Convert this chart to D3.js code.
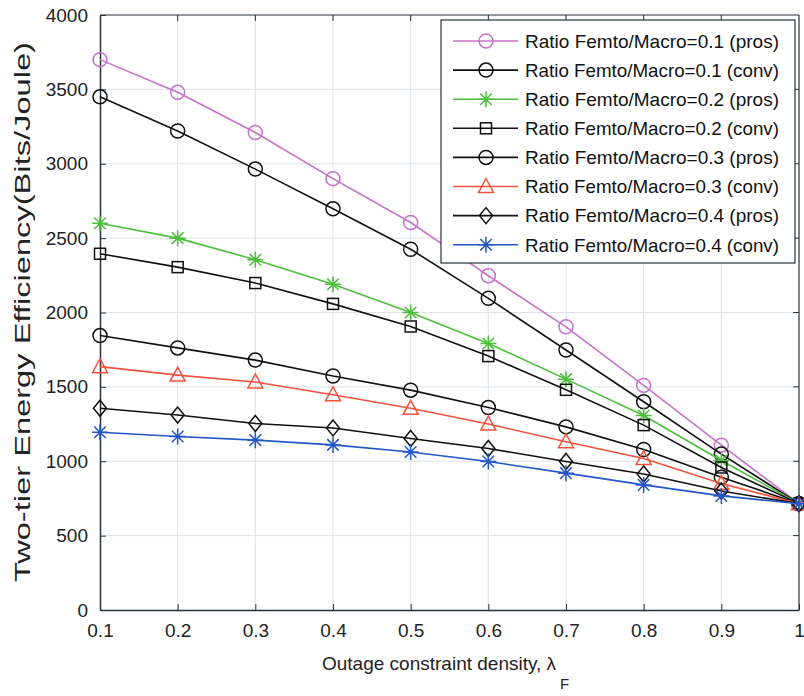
<!DOCTYPE html>
<html><head><meta charset="utf-8">
<script src="https://cdn.jsdelivr.net/npm/d3@7"></script>
<style>body{margin:0;background:#fff}svg{display:block}</style>
</head><body><svg id="c" width="804" height="696"></svg>
<script>
const xValues = [0.1,0.2,0.3,0.4,0.5,0.6,0.7,0.8,0.9,1.0];
const seriesNames = [
  "Ratio Femto/Macro=0.1 (pros)","Ratio Femto/Macro=0.1 (conv)",
  "Ratio Femto/Macro=0.2 (pros)","Ratio Femto/Macro=0.2 (conv)",
  "Ratio Femto/Macro=0.3 (pros)","Ratio Femto/Macro=0.3 (conv)",
  "Ratio Femto/Macro=0.4 (pros)","Ratio Femto/Macro=0.4 (conv)"];
const r01pros = [3700,3480,3210,2900,2605,2247,1904,1510,1108,715];
const r01conv = [3450,3220,2964,2697,2425,2095,1748,1400,1048,715];
const r02pros = [2600,2500,2355,2190,2000,1792,1552,1308,1005,715];
const r02conv = [2395,2305,2198,2058,1906,1707,1480,1243,958,715];
const r03pros = [1845,1762,1680,1573,1478,1361,1231,1079,893,715];
const r03conv = [1636,1579,1533,1447,1356,1250,1131,1018,850,715];
const r04pros = [1356,1311,1254,1224,1153,1086,998,914,800,715];
const r04conv = [1195,1166,1142,1110,1062,998,920,841,767,715];
const seriesValues = [r01pros,r01conv,r02pros,r02conv,r03pros,r03conv,r04pros,r04conv];
const seriesColors = ["#c573c8","#111111","#4cbf3a","#111111","#111111","#f2533f","#111111","#2456c8"];
const seriesMarkers = ["circle","circle","star","square","circle","triangle","diamond","star"];
const yTicks = [0,500,1000,1500,2000,2500,3000,3500,4000];
const xTicks = [0.1,0.2,0.3,0.4,0.5,0.6,0.7,0.8,0.9,1];

const svg = d3.select("#c");
const m = {l:100, r:5, t:15, b:86};
const W = 804, H = 696;
const x = d3.scaleLinear().domain([0.1,1]).range([m.l, W-m.r]);
const y = d3.scaleLinear().domain([0,4000]).range([H-m.b, m.t]);
const font = "'Liberation Sans', Arial, sans-serif";

// grid
svg.append("g").selectAll("line").data(xTicks.slice(1,-1)).join("line")
  .attr("x1",d=>x(d)).attr("x2",d=>x(d)).attr("y1",y(0)).attr("y2",y(4000))
  .attr("stroke","#dde3e8").attr("stroke-width",1);
svg.append("g").selectAll("line").data(yTicks.slice(1,-1)).join("line")
  .attr("y1",d=>y(d)).attr("y2",d=>y(d)).attr("x1",x(0.1)).attr("x2",x(1))
  .attr("stroke","#dde3e8").attr("stroke-width",1);

// axes
const xAxis = d3.axisBottom(x).tickValues(xTicks).tickSizeInner(-6).tickSizeOuter(0)
  .tickPadding(14).tickFormat(d=>d===1?"1":d3.format(".1f")(d));
const gx = svg.append("g").attr("transform",`translate(0,${y(0)})`).call(xAxis);
const yAxis = d3.axisLeft(y).tickValues(yTicks).tickSizeInner(-6).tickSizeOuter(0).tickPadding(12).tickFormat(d3.format("d"));
const gy = svg.append("g").attr("transform",`translate(${x(0.1)},0)`).call(yAxis);
[gx,gy].forEach(g=>{
  g.selectAll("text").attr("font-family",font).attr("font-size",19).attr("fill","#222");
  g.select(".domain").attr("stroke","#263238").attr("stroke-width",1.5);
  g.selectAll(".tick line").attr("stroke","#263238");
});
gx.selectAll("text").attr("dy","0.71em");
// top/right frame
svg.append("line").attr("x1",x(0.1)).attr("x2",x(1)).attr("y1",y(4000)).attr("y2",y(4000)).attr("stroke","#263238").attr("stroke-width",1.2);
svg.append("line").attr("x1",x(1)).attr("x2",x(1)).attr("y1",y(4000)).attr("y2",y(0)).attr("stroke","#263238").attr("stroke-width",1.2);
svg.append("g").selectAll("line").data(xTicks.slice(1,-1)).join("line")
  .attr("x1",d=>x(d)).attr("x2",d=>x(d)).attr("y1",y(4000)).attr("y2",y(4000)+6).attr("stroke","#263238");
svg.append("g").selectAll("line").data(yTicks.slice(1,-1)).join("line")
  .attr("y1",d=>y(d)).attr("y2",d=>y(d)).attr("x1",x(1)).attr("x2",x(1)-6).attr("stroke","#263238");

function drawMarker(g, type, color, cx, cy){
  const s = 7;
  if(type==="circle") g.append("circle").attr("cx",cx).attr("cy",cy).attr("r",s).attr("fill","none").attr("stroke",color).attr("stroke-width",1.5);
  else if(type==="square") g.append("rect").attr("x",cx-5.5).attr("y",cy-5.5).attr("width",11).attr("height",11).attr("fill","none").attr("stroke",color).attr("stroke-width",1.5);
  else if(type==="triangle") g.append("path").attr("d",`M${cx},${cy-8}L${cx+7.5},${cy+6}L${cx-7.5},${cy+6}Z`).attr("fill","none").attr("stroke",color).attr("stroke-width",1.5);
  else if(type==="diamond") g.append("path").attr("d",`M${cx},${cy-8}L${cx+6.5},${cy}L${cx},${cy+8}L${cx-6.5},${cy}Z`).attr("fill","none").attr("stroke",color).attr("stroke-width",1.5);
  else if(type==="star"){
    const r=8, p=[];
    p.push(`M${cx-r},${cy}L${cx+r},${cy}`, `M${cx},${cy-r}L${cx},${cy+r}`);
    const d=r*0.72; p.push(`M${cx-d},${cy-d}L${cx+d},${cy+d}`, `M${cx-d},${cy+d}L${cx+d},${cy-d}`);
    g.append("path").attr("d",p.join("")).attr("stroke",color).attr("stroke-width",1.5).attr("fill","none");
  }
}

const line = d3.line().x((d,i)=>x(xValues[i])).y(d=>y(d));
seriesValues.forEach((vals,k)=>{
  const g = svg.append("g");
  g.append("path").datum(vals).attr("d",line).attr("fill","none").attr("stroke",seriesColors[k]).attr("stroke-width",1.6);
  vals.forEach((v,i)=>drawMarker(g, seriesMarkers[k], seriesColors[k], x(xValues[i]), y(v)));
});

// legend
const lg = svg.append("g");
lg.append("rect").attr("x",441).attr("y",20).attr("width",354).attr("height",243)
  .attr("fill","#fff").attr("stroke","#263238").attr("stroke-width",1.2);
seriesNames.forEach((n,k)=>{
  const cy = 41 + k*29.1;
  lg.append("line").attr("x1",453).attr("x2",518).attr("y1",cy).attr("y2",cy).attr("stroke",seriesColors[k]).attr("stroke-width",1.6);
  drawMarker(lg, seriesMarkers[k], seriesColors[k], 486, cy);
  lg.append("text").attr("x",525).attr("y",cy).attr("dy","0.36em").attr("font-family",font).attr("font-size",19).attr("fill","#111")
    .attr("textLength",254).attr("lengthAdjust","spacingAndGlyphs").text(n);
});

// axis labels
svg.append("text").attr("transform",`translate(30,312) rotate(-90)`)
  .attr("text-anchor","middle").attr("font-family",font).attr("font-size",22).attr("fill","#222")
  .attr("textLength",540).attr("lengthAdjust","spacingAndGlyphs")
  .text("Two-tier Energy Efficiency(Bits/Joule)");
svg.append("text").attr("x",322).attr("y",670)
  .attr("font-family",font).attr("font-size",19).attr("fill","#222")
  .text("Outage constraint density, λ");
svg.append("text").attr("x",560).attr("y",689)
  .attr("font-family",font).attr("font-size",15).attr("fill","#222").text("F");
</script></body></html>
